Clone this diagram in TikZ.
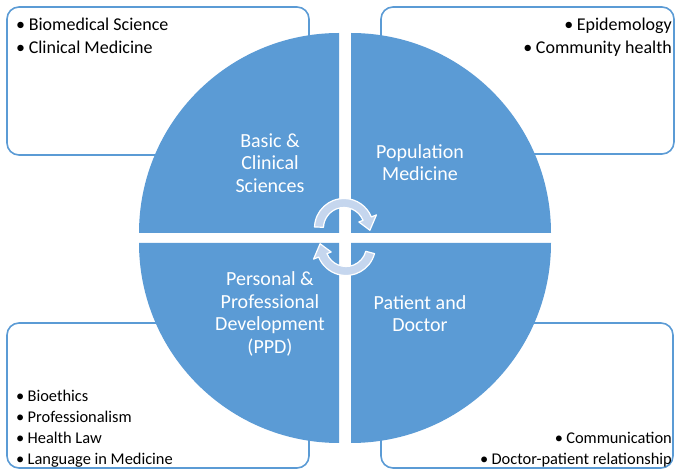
\documentclass[tikz,border=0pt]{standalone}
\usepackage{fontspec}
\setmainfont{Carlito}
\definecolor{quadblue}{HTML}{5B9BD5}
\definecolor{turnfill}{HTML}{C5D6EE}
\newcommand{\itembul}{\makebox[0.7em][l]{\textbullet}}

\begin{document}
\begin{tikzpicture}[x=1pt,y=1pt]
    \tikzstyle{listbox} = [draw=quadblue, line width=1.6pt, rounded corners=12pt, fill=white]
    \tikzstyle{quarter} = [fill=quadblue]
    \tikzstyle{turnarrow} = [fill=turnfill, draw=white, line width=1.2pt, line join=round]
    \tikzstyle{quadtext} = [text=white, align=center, inner sep=0pt, font=\fontsize{20}{22.5}\selectfont]
    \tikzstyle{item} = [inner sep=0pt, font=\fontsize{18}{22}\selectfont]
    \tikzstyle{smallitem} = [inner sep=0pt, font=\fontsize{16.4}{20}\selectfont]
    \useasboundingbox (0,0) rectangle (675,471);
    \draw[listbox] (7,316) rectangle (309,464);
    \draw[listbox] (381,317) rectangle (674,464);
    \draw[listbox] (7,3) rectangle (309,148);
    \draw[listbox] (381,3) rectangle (673,148);
    \fill[quarter] (339,238) -- ++(-200,0) arc[start angle=180, end angle=90, radius=200] -- cycle;
    \fill[quarter] (351,238) -- ++(0,200) arc[start angle=90, end angle=0, radius=200] -- cycle;
    \fill[quarter] (339,228) -- ++(0,-200) arc[start angle=270, end angle=180, radius=200] -- cycle;
    \fill[quarter] (351,228) -- ++(200,0) arc[start angle=0, end angle=-90, radius=200] -- cycle;
    \begin{scope}[shift={(344,243)}]
      \filldraw[turnarrow] (178:29.5) arc[start angle=178, end angle=22, radius=29.5]
        -- (22:35) -- (-5:26) -- (22:16) -- (22:20.5)
        arc[start angle=22, end angle=178, radius=20.5] -- cycle;
    \end{scope}
    \begin{scope}[shift={(346,225)}]
      \filldraw[turnarrow] (-15:29.5) arc[start angle=-15, end angle=-158, radius=29.5]
        -- (-158:35) -- (-185:26) -- (-158:16) -- (-158:20.5)
        arc[start angle=-158, end angle=-15, radius=20.5] -- cycle;
    \end{scope}
    \node[quadtext] (basic) at (270,308) {Basic \&\\Clinical\\Sciences};
    \node[quadtext] (population) at (420,308.5) {Population\\Medicine};
    \node[quadtext] (ppd) at (270,157) {Personal \&\\Professional\\Development\\(PPD)};
    \node[quadtext] (patient) at (420,157.5) {Patient and\\Doctor};
    \foreach \txt [count=\i] in {Biomedical Science, Clinical Medicine}
      \node[item, anchor=base west] (basicitem\i) at (16,{463-23*\i}) {\itembul\txt};
    \foreach \txt [count=\i] in {Epidemology, Community health}
      \node[item, anchor=base east] (popitem\i) at (672,{463-23*\i}) {\itembul\txt};
    \foreach \txt [count=\i] in {Bioethics, Professionalism, Health Law, Language in Medicine}
      \node[smallitem, anchor=base west] (ppditem\i) at (16,{89.7-20.7*\i}) {\itembul\txt};
    \foreach \txt [count=\i] in {Communication, Doctor-patient relationship}
      \node[smallitem, anchor=base east] (patitem\i) at (672,{48-21*\i}) {\itembul\txt};
\end{tikzpicture}
\end{document}
